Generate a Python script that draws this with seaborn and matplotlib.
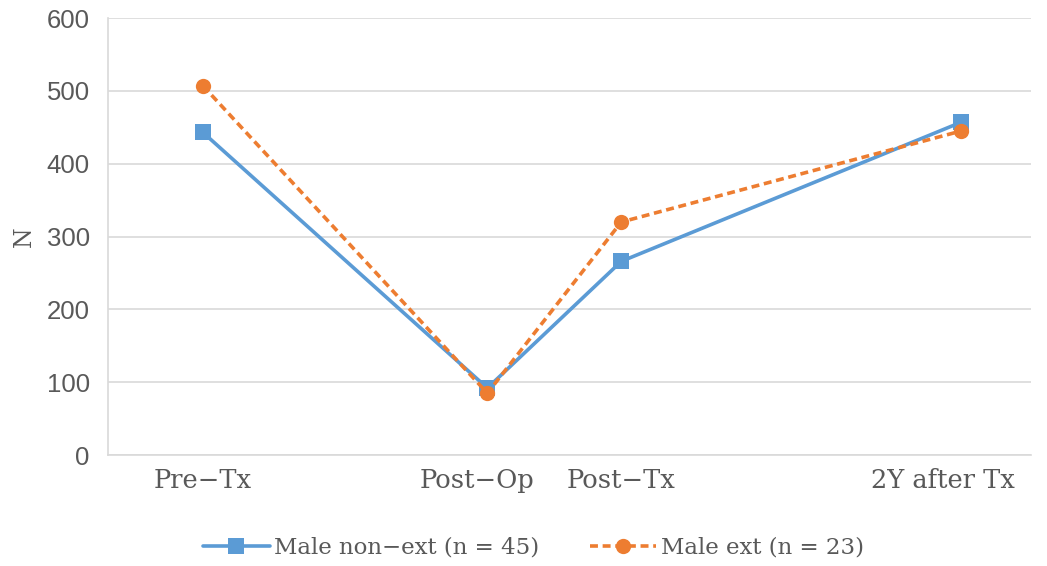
import matplotlib
matplotlib.use("Agg")
import matplotlib.pyplot as plt
import matplotlib.transforms as mtransforms
import seaborn as sns
import pandas as pd

# Time points and their positions on the horizontal axis
timepoints = ["Pre\u2212Tx", "Post\u2212Op", "Post\u2212Tx", "2Y after Tx"]
time_x = [1.03, 4.11, 5.56, 9.24]

# Mean N per group
non_ext = [443, 92, 266, 457]
ext = [507, 85, 320, 445]

series_names = ["Male non\u2212ext (n = 45)", "Male ext (n = 23)"]

df = pd.DataFrame({
    "x": time_x * 2,
    "N": non_ext + ext,
    "group": [series_names[0]] * 4 + [series_names[1]] * 4,
})

sns.set_theme(style="white")
plt.rcParams["font.family"] = ["DejaVu Serif"]

text_color = "#595959"
grid_color = "#d9d9d9"

fig, ax = plt.subplots(figsize=(10.47, 5.66), dpi=100)
fig.subplots_adjust(left=0.103, right=0.985, top=0.968, bottom=0.196)

palette = {series_names[0]: "#5B9BD5", series_names[1]: "#ED7D31"}
sns.lineplot(
    data=df, x="x", y="N", hue="group", style="group",
    palette=palette,
    dashes={series_names[0]: "", series_names[1]: (2.2, 1.3)},
    markers={series_names[0]: "s", series_names[1]: "o"},
    markersize=11, markeredgewidth=0, linewidth=2.6,
    ax=ax, legend=True,
)

ax.set_xlim(0, 10)
ax.set_ylim(0, 600)
ax.set_yticks(range(0, 601, 100))
ax.set_xticks(time_x)
ax.set_xticklabels(timepoints, fontsize=18.5)
for lbl in ax.get_yticklabels():
    lbl.set_fontfamily("Liberation Sans")
    lbl.set_fontsize(18.5)
ax.set_xlabel("")
ax.set_ylabel("N", color=text_color, fontsize=17, labelpad=8)
ax.tick_params(axis="both", length=0, labelcolor=text_color)
ax.tick_params(axis="x", pad=9)
ax.tick_params(axis="y", pad=13)

# Nudge crowded / edge labels leftwards so they sit clear of neighbours
xlabels = ax.get_xticklabels()
for idx, shift in ((1, -10), (3, -18)):
    xlabels[idx].set_transform(
        xlabels[idx].get_transform()
        + mtransforms.ScaledTranslation(shift / 100, 0, fig.dpi_scale_trans)
    )

ax.yaxis.grid(True, color=grid_color, linewidth=1.2)
ax.set_axisbelow(True)
for side in ["top", "right"]:
    ax.spines[side].set_visible(False)
for side in ["left", "bottom"]:
    ax.spines[side].set_color(grid_color)
    ax.spines[side].set_linewidth(1.2)

handles, labels = ax.get_legend_handles_labels()
leg = ax.legend(
    handles, labels, loc="upper center", bbox_to_anchor=(0.461, -0.14),
    ncol=2, frameon=False, fontsize=16.5, handlelength=2.9,
    columnspacing=2.2, handletextpad=0.2,
)
for t in leg.get_texts():
    t.set_color(text_color)

fig.savefig("out.png", dpi=100)
